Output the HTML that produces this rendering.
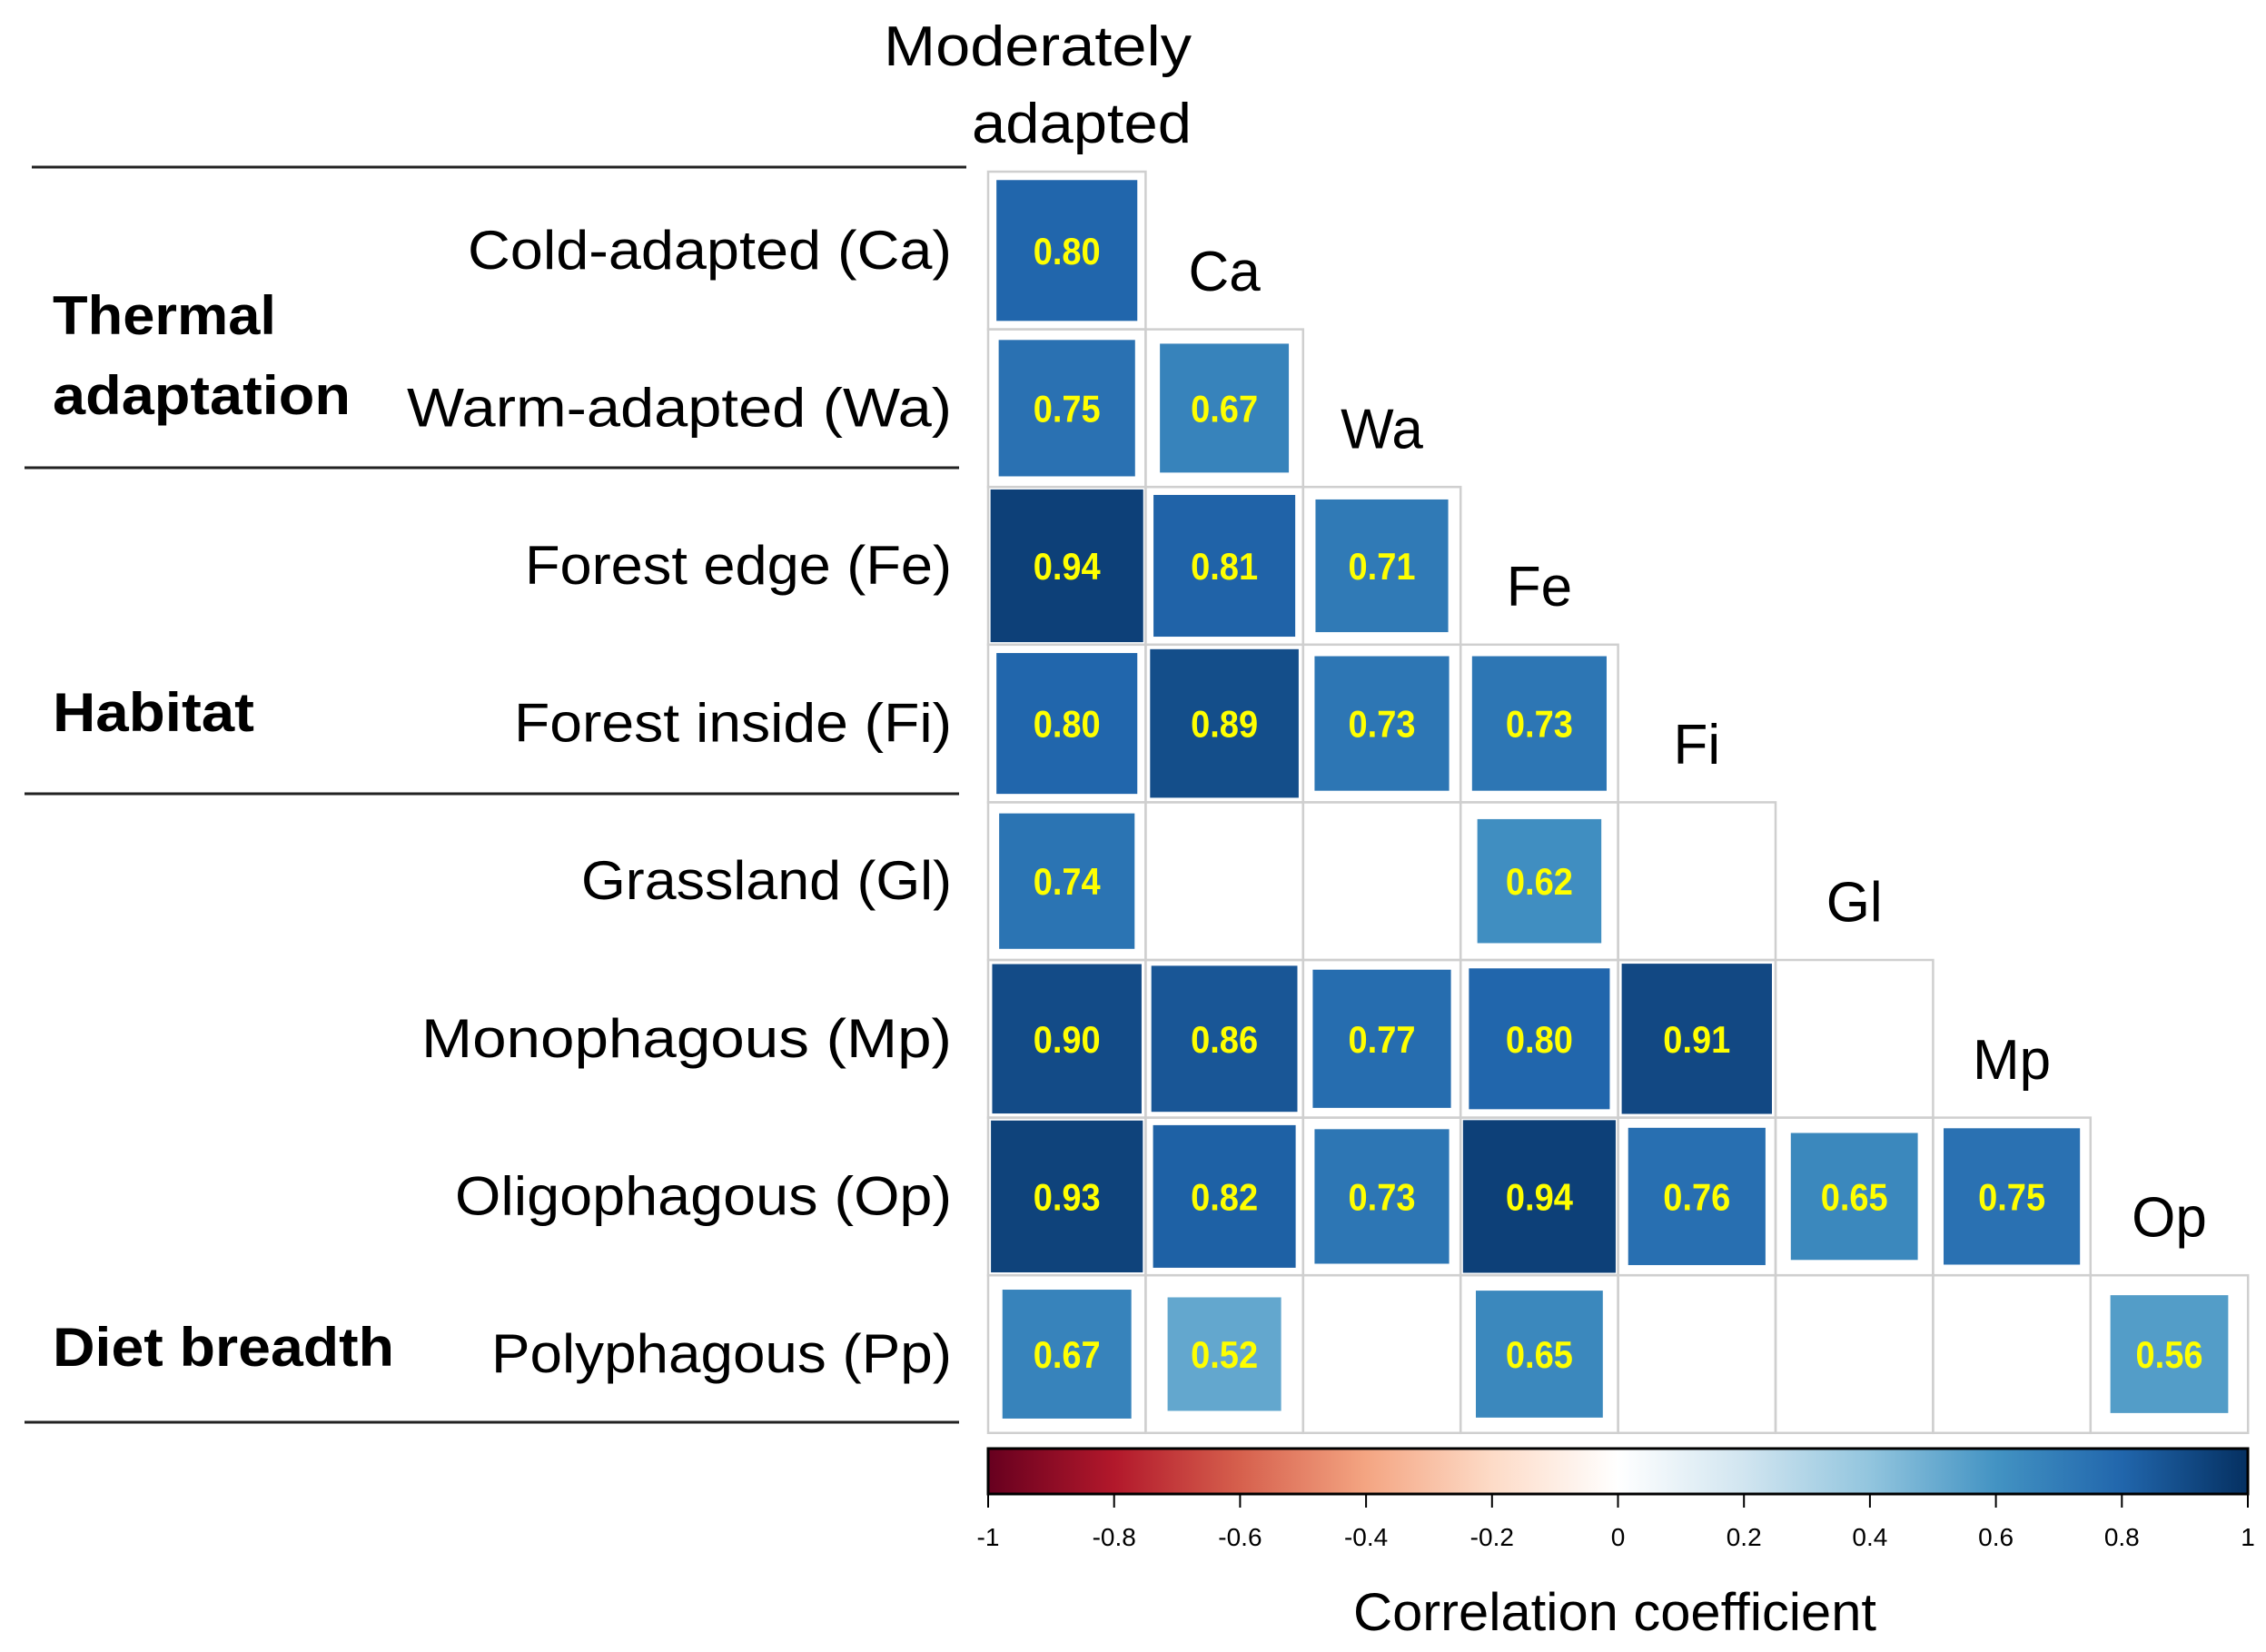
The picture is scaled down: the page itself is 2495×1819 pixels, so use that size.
<!DOCTYPE html>
<html><head><meta charset="utf-8"><style>
html,body{margin:0;padding:0;background:#fff;}
svg{display:block;font-family:"Liberation Sans",sans-serif;}
</style></head><body>
<svg id="chart" width="2495" height="1819" viewBox="0 0 2495 1819" xmlns="http://www.w3.org/2000/svg">
<defs>
<linearGradient id="rdbu" x1="0" x2="1" y1="0" y2="0">
<stop offset="0" stop-color="#67001f"/><stop offset="0.1" stop-color="#b2182b"/><stop offset="0.2" stop-color="#d6604d"/><stop offset="0.3" stop-color="#f4a582"/><stop offset="0.4" stop-color="#fddbc7"/><stop offset="0.5" stop-color="#ffffff"/><stop offset="0.6" stop-color="#d1e5f0"/><stop offset="0.7" stop-color="#92c5de"/><stop offset="0.8" stop-color="#4393c3"/><stop offset="0.9" stop-color="#2166ac"/><stop offset="1" stop-color="#053061"/>
</linearGradient>
</defs>
<g id="grid"></g>
<g id="cells"></g>
<g id="labels"></g>
<g stroke="#222" stroke-width="3">
<line x1="35" y1="184" x2="1064" y2="184"/>
<line x1="27" y1="515" x2="1056" y2="515"/>
<line x1="27" y1="874" x2="1056" y2="874"/>
<line x1="27" y1="1566" x2="1056" y2="1566"/>
</g>
<g font-weight="bold" font-size="60" fill="#000">
<text x="58" y="368" textLength="246" lengthAdjust="spacingAndGlyphs">Thermal</text>
<text x="58" y="456" textLength="328" lengthAdjust="spacingAndGlyphs">adaptation</text>
<text x="58" y="805" textLength="222" lengthAdjust="spacingAndGlyphs">Habitat</text>
<text x="58" y="1504" textLength="376" lengthAdjust="spacingAndGlyphs">Diet breadth</text>
</g>
<g font-size="62" fill="#000" text-anchor="end">
<text x="1312" y="72" textLength="339" lengthAdjust="spacingAndGlyphs">Moderately</text>
<text x="1312" y="157" textLength="242" lengthAdjust="spacingAndGlyphs">adapted</text>
</g>
<g>
<rect x="1088" y="1595" width="1387" height="50" fill="url(#rdbu)" stroke="#000" stroke-width="3"/>
<g id="cbticks"></g>
<text x="1778" y="1795" font-size="58" text-anchor="middle" textLength="576" lengthAdjust="spacingAndGlyphs">Correlation coefficient</text>
</g>
</svg>
<script>
const rowNames = ["Cold-adapted (Ca)","Warm-adapted (Wa)","Forest edge (Fe)","Forest inside (Fi)","Grassland (Gl)","Monophagous (Mp)","Oligophagous (Op)","Polyphagous (Pp)"];
const rowLabelWidths = [533,600,470,482,408,584,547,507];
const colAbbr = ["MA","Ca","Wa","Fe","Fi","Gl","Mp","Op"];
const rowCa = [0.80];
const rowWa = [0.75,0.67];
const rowFe = [0.94,0.81,0.71];
const rowFi = [0.80,0.89,0.73,0.73];
const rowGl = [0.74,null,null,0.62,null];
const rowMp = [0.90,0.86,0.77,0.80,0.91,null];
const rowOp = [0.93,0.82,0.73,0.94,0.76,0.65,0.75];
const rowPp = [0.67,0.52,null,0.65,null,null,null,0.56];
const matrix = [rowCa,rowWa,rowFe,rowFi,rowGl,rowMp,rowOp,rowPp];
const cbTicks = [-1,-0.8,-0.6,-0.4,-0.2,0,0.2,0.4,0.6,0.8,1];

const NS="http://www.w3.org/2000/svg";
const X0=1088, Y0=189, CW=173.4, CH=173.6;
const xPos = j => X0 + j*CW;
const yPos = i => Y0 + i*CH;
const cbX = v => 1088 + (v+1)/2*1387;
const stops=[[103,0,31],[178,24,43],[214,96,77],[244,165,130],[253,219,199],[255,255,255],[209,229,240],[146,197,222],[67,147,195],[33,102,172],[5,48,97]];
function color(v){const t=(v+1)/2*10;const i=Math.min(9,Math.floor(t));const f=t-i;const a=stops[i],b=stops[i+1];
return "rgb("+a.map((c,k)=>Math.round(c+(b[k]-c)*f)).join(",")+")";}
function mk(tag,attrs,parent){const e=document.createElementNS(NS,tag);for(const k in attrs)e.setAttribute(k,attrs[k]);parent.appendChild(e);return e;}

const grid=document.getElementById('grid'), cells=document.getElementById('cells'), labels=document.getElementById('labels');
matrix.forEach((row,i)=>{
  row.forEach((v,j)=>{
    const r=mk('rect',{x:xPos(j),y:yPos(i),width:CW,height:CH,fill:'none',stroke:'#cfcfcf','stroke-width':2.5},grid);
    
    
    if(v===null) return;
    const s=Math.sqrt(Math.abs(v))*CW;
    const cx=xPos(j)+CW/2, cy=yPos(i)+CH/2;
    const q=mk('rect',{x:cx-s/2,y:cy-s/2,width:s,height:s,fill:color(v)},cells);
    
    
    const t=mk('text',{x:cx,y:cy+15,'text-anchor':'middle','font-size':42,'font-weight':'bold',fill:'#ffff00',textLength:74,lengthAdjust:'spacingAndGlyphs'},cells);
    t.textContent=v.toFixed(2);
    
    
  });
  const rl=mk('text',{x:1048,y:yPos(i)+CH/2+20,'text-anchor':'end','font-size':60,textLength:rowLabelWidths[i],lengthAdjust:'spacingAndGlyphs'},labels);
  rl.textContent=rowNames[i];
  
  
  const cl=mk('text',{x:xPos(i+1)+CW/2,y:yPos(i)+131,'text-anchor':'middle','font-size':62},labels);
  cl.textContent=colAbbr[i+1];
  
  
});
const cbt=document.getElementById('cbticks');
cbTicks.forEach(v=>{
  const l=mk('line',{x1:cbX(v),x2:cbX(v),y1:1645,y2:1660,stroke:'#000','stroke-width':2},cbt);
  
  
  const t=mk('text',{x:cbX(v),y:1702,'text-anchor':'middle','font-size':28},cbt);
  t.textContent=String(v);
  
  
});
</script>
</body></html>
